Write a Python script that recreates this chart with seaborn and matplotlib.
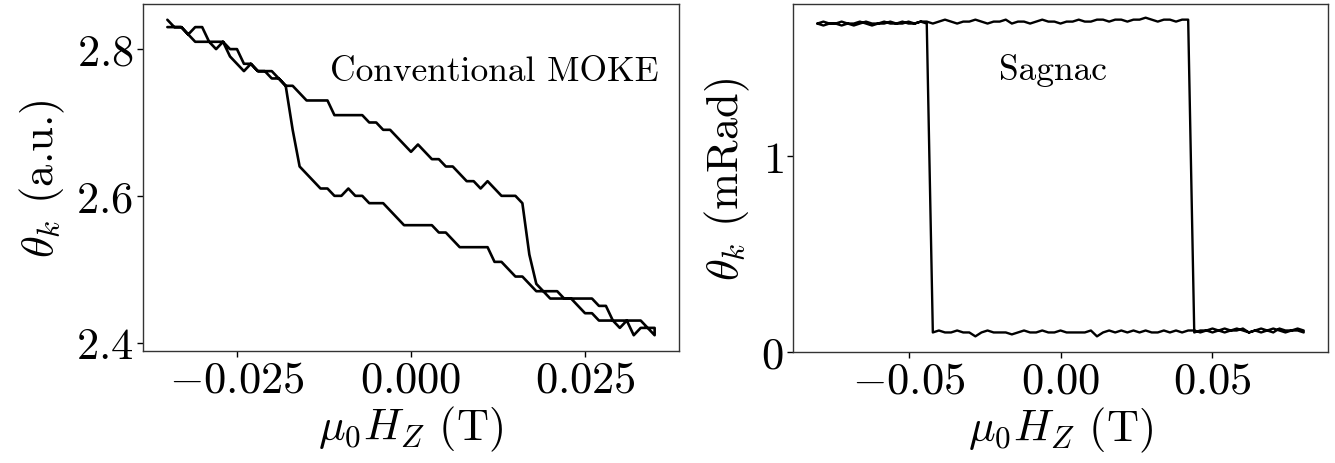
import numpy as np
import pandas as pd
import seaborn as sns
import matplotlib.pyplot as plt

# ---- conventional MOKE loop (field in mT, theta_k in a.u.) ----
moke_field = [-35, -34, -33, -32, -31, -30, -29, -28, -27, -26,
              -25, -24, -23, -22, -21, -20, -19, -18, -17, -16,
              -15, -14, -13, -12, -11, -10, -9, -8, -7, -6,
              -5, -4, -3, -2, -1, 0, 1, 2, 3, 4,
              5, 6, 7, 8, 9, 10, 11, 12, 13, 14,
              15, 16, 17, 18, 19, 20, 21, 22, 23, 24,
              25, 26, 27, 28, 29, 30, 31, 32, 33, 34, 35]
# sweep up (-35 -> +35 mT)
moke_up = [2.84, 2.83, 2.83, 2.82, 2.83, 2.83, 2.81, 2.81, 2.81, 2.80,
           2.80, 2.78, 2.78, 2.77, 2.77, 2.77, 2.76, 2.75, 2.75, 2.74,
           2.73, 2.73, 2.73, 2.73, 2.71, 2.71, 2.71, 2.71, 2.71, 2.70,
           2.70, 2.69, 2.69, 2.68, 2.67, 2.66, 2.67, 2.66, 2.65, 2.65,
           2.64, 2.64, 2.63, 2.62, 2.62, 2.61, 2.62, 2.61, 2.60, 2.60,
           2.60, 2.59, 2.52, 2.48, 2.47, 2.47, 2.47, 2.46, 2.46, 2.45,
           2.44, 2.44, 2.43, 2.43, 2.43, 2.42, 2.43, 2.41, 2.42, 2.42, 2.41]
# sweep down (+35 -> -35 mT), listed in ascending field order
moke_down = [2.83, 2.83, 2.83, 2.82, 2.81, 2.81, 2.81, 2.80, 2.81, 2.79,
             2.78, 2.77, 2.78, 2.77, 2.77, 2.76, 2.76, 2.75, 2.69, 2.64,
             2.63, 2.62, 2.61, 2.61, 2.60, 2.60, 2.61, 2.60, 2.60, 2.59,
             2.59, 2.59, 2.58, 2.57, 2.56, 2.56, 2.56, 2.56, 2.56, 2.55,
             2.55, 2.54, 2.53, 2.53, 2.53, 2.53, 2.53, 2.51, 2.51, 2.50,
             2.49, 2.49, 2.48, 2.47, 2.47, 2.46, 2.46, 2.46, 2.46, 2.46,
             2.46, 2.46, 2.45, 2.45, 2.43, 2.43, 2.43, 2.43, 2.43, 2.42, 2.42]

# ---- Sagnac loop (field in mT, theta_k in mRad) ----
sag_field = [-80, -78, -76, -74, -72, -70, -68, -66, -64, -62,
             -60, -58, -56, -54, -52, -50, -48, -46, -44, -42,
             -40, -38, -36, -34, -32, -30, -28, -26, -24, -22,
             -20, -18, -16, -14, -12, -10, -8, -6, -4, -2,
             0, 2, 4, 6, 8, 10, 12, 14, 16, 18,
             20, 22, 24, 26, 28, 30, 32, 34, 36, 38,
             40, 42, 44, 46, 48, 50, 52, 54, 56, 58,
             60, 62, 64, 66, 68, 70, 72, 74, 76, 78, 80]
sag_up = [1.68, 1.67, 1.68, 1.68, 1.67, 1.68, 1.68, 1.69, 1.68, 1.67,
          1.68, 1.68, 1.69, 1.68, 1.68, 1.69, 1.68, 1.69, 1.69, 1.68,
          1.69, 1.70, 1.69, 1.68, 1.69, 1.69, 1.70, 1.69, 1.68, 1.69,
          1.69, 1.70, 1.68, 1.69, 1.69, 1.68, 1.69, 1.70, 1.69, 1.69,
          1.68, 1.69, 1.69, 1.70, 1.69, 1.69, 1.70, 1.70, 1.69, 1.70,
          1.70, 1.69, 1.70, 1.70, 1.71, 1.70, 1.69, 1.70, 1.70, 1.69,
          1.70, 1.70,
          0.10, 0.11, 0.11, 0.10, 0.11, 0.12, 0.11, 0.11, 0.12, 0.10,
          0.11, 0.10, 0.11, 0.12, 0.11, 0.10, 0.11, 0.11, 0.10]
sag_down = [1.68, 1.69, 1.68, 1.68, 1.69, 1.68, 1.67, 1.68, 1.69, 1.68,
            1.68, 1.69, 1.68, 1.68, 1.69, 1.68, 1.68, 1.69, 1.68,
            0.10, 0.11, 0.10, 0.10, 0.11, 0.10, 0.10, 0.08, 0.10, 0.11,
            0.10, 0.10, 0.10, 0.09, 0.10, 0.11, 0.10, 0.10, 0.11, 0.10,
            0.10, 0.11, 0.10, 0.10, 0.10, 0.10, 0.11, 0.08, 0.10, 0.11,
            0.10, 0.11, 0.10, 0.11, 0.10, 0.11, 0.10, 0.10, 0.11, 0.10,
            0.11, 0.10, 0.11, 0.11, 0.10, 0.11, 0.12, 0.11, 0.10, 0.11,
            0.12, 0.11, 0.10, 0.11, 0.12, 0.11, 0.10, 0.12, 0.11, 0.11, 0.12, 0.11]

moke_xticks = [-0.025, 0.0, 0.025]
moke_yticks = [2.4, 2.6, 2.8]
sag_xticks = [-0.05, 0.0, 0.05]
sag_yticks = [0, 1]


def loop_frame(field_mT, up, down):
    # one continuous path: sweep up, then back down
    f = np.array(field_mT) / 1000.0
    x = np.concatenate([f, f[::-1]])
    y = np.concatenate([up, down[::-1]])
    return pd.DataFrame({'H': x, 'theta': y, 'order': np.arange(len(x))})


sns.set_style('ticks')
plt.rcParams['font.family'] = 'serif'
plt.rcParams['font.serif'] = ['cmr10']
plt.rcParams['mathtext.fontset'] = 'cm'
plt.rcParams['axes.formatter.use_mathtext'] = True
plt.rcParams['axes.unicode_minus'] = True
for key in ('text.color', 'axes.labelcolor', 'xtick.color', 'ytick.color'):
    plt.rcParams[key] = 'black'

fs = 32
W, H = 1335, 464
fig = plt.figure(figsize=(W / 100, H / 100), dpi=100)
ax1 = fig.add_axes([143 / W, 1 - 352 / H, 536 / W, 347 / H])
ax2 = fig.add_axes([793 / W, 1 - 353 / H, 535 / W, 348 / H])

df1 = loop_frame(moke_field, moke_up, moke_down)
sns.lineplot(data=df1, x='H', y='theta', sort=False, estimator=None,
             color='black', lw=1.9, ax=ax1)
df2 = loop_frame(sag_field, sag_up, sag_down)
sns.lineplot(data=df2, x='H', y='theta', sort=False, estimator=None,
             color='black', lw=1.7, ax=ax2)

ax1.set_xticks(moke_xticks)
ax1.set_yticks(moke_yticks)
ax2.set_xticks(sag_xticks)
ax2.set_yticks(sag_yticks)
ax2.set_ylim(0, 1.78)

ax1.set_xlabel(r'$\mu_0 H_Z$ (T)', fontsize=fs, labelpad=2)
ax1.set_ylabel(r'$\theta_k$ (a.u.)', fontsize=fs, labelpad=6)
ax2.set_xlabel(r'$\mu_0 H_Z$ (T)', fontsize=fs, labelpad=2)
ax2.set_ylabel(r'$\theta_k$ (mRad)', fontsize=fs, labelpad=6)

for ax in (ax1, ax2):
    ax.tick_params(labelsize=fs, length=4, width=1, direction='out', pad=3)
    for s in ax.spines.values():
        s.set_linewidth(1.0)
        s.set_color('#333333')

ax1.text(0.655, 0.807, 'Conventional MOKE', transform=ax1.transAxes,
         ha='center', va='center', fontsize=25.5)
ax2.text(0.486, 0.813, 'Sagnac', transform=ax2.transAxes,
         ha='center', va='center', fontsize=25.5)

fig.savefig('out.png', dpi=100)
